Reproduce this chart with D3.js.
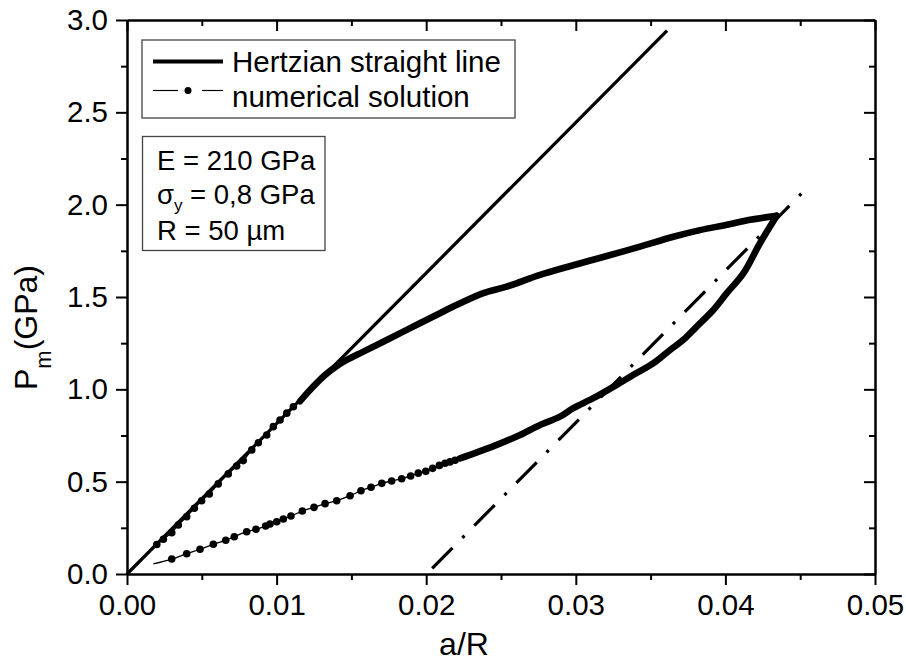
<!DOCTYPE html>
<html>
<head>
<meta charset="utf-8">
<script src="https://cdn.jsdelivr.net/npm/d3@7"></script>
<style>
    html, body { margin: 0; padding: 0; background: #fff; }
    svg { display: block; }
    svg text { font-family: "Liberation Sans", Arial, sans-serif; fill: #000; }
</style>
</head>
<body>
<svg id="chart"></svg>
<script>
// Hertzian straight line (a/R, Pm in GPa)
const hertzA = [0, 0.0361];
const hertzP = [0, 2.942];

// unloading straight line (dash-dot)
const slopeA = [0.0204, 0.0452];
const slopeP = [0.030, 2.070];

// numerical solution, loading branch
const loadA = [0, 0.00199, 0.00243, 0.00299, 0.00343, 0.00399, 0.00450, 0.00499, 0.00550, 0.00610,
    0.00677, 0.00733, 0.00777, 0.00834, 0.00878, 0.00934, 0.00978, 0.01023, 0.01068, 0.01112,
    0.01156, 0.01245, 0.01320, 0.01400, 0.01469, 0.01580, 0.01713, 0.01870, 0.02048, 0.02181,
    0.02382, 0.02538, 0.02761, 0.02983, 0.03207, 0.03429, 0.03652, 0.03830,
    0.04009, 0.04165, 0.04343];
const loadP = [0, 0.160, 0.188, 0.224, 0.265, 0.310, 0.356, 0.397, 0.433, 0.488,
    0.542, 0.585, 0.614, 0.672, 0.711, 0.753, 0.798, 0.834, 0.871, 0.906,
    0.935, 1.015, 1.075, 1.125, 1.159, 1.204, 1.258, 1.322, 1.394, 1.448,
    1.521, 1.556, 1.620, 1.672, 1.722, 1.773, 1.826, 1.862,
    1.891, 1.918, 1.940];

// numerical solution, unloading branch (from the peak down)
const unloadA = [0.04343, 0.04231, 0.04120, 0.04009, 0.03919, 0.03808, 0.03719, 0.03630, 0.03518, 0.03384,
    0.03273, 0.03117, 0.02983, 0.02894, 0.02761, 0.02627, 0.02471, 0.02293, 0.02226, 0.02193,
    0.02159, 0.02126, 0.02088, 0.02043, 0.01997, 0.01947, 0.01896, 0.01836, 0.01769, 0.01703,
    0.01631, 0.01564, 0.01491, 0.01402, 0.01324, 0.01250, 0.01172, 0.01096, 0.01045, 0.01001,
    0.00956, 0.00927, 0.00862, 0.00800, 0.00717, 0.00660, 0.00577, 0.00488, 0.00399, 0.00299,
    0.00176];
const unloadP = [1.940, 1.791, 1.628, 1.521, 1.430, 1.340, 1.268, 1.213, 1.141, 1.078,
    1.024, 0.952, 0.898, 0.852, 0.807, 0.753, 0.699, 0.645, 0.626, 0.616,
    0.607, 0.600, 0.588, 0.572, 0.556, 0.546, 0.531, 0.516, 0.504, 0.491,
    0.470, 0.451, 0.424, 0.397, 0.381, 0.361, 0.341, 0.314, 0.298, 0.283,
    0.271, 0.260, 0.242, 0.229, 0.202, 0.183, 0.161, 0.134, 0.110, 0.081,
    0.055];

// where the symbols get so dense that they merge into a thick line
const loadDenseFrom = 0.0115;
const unloadDenseFrom = 0.0222;

const xTicks = [0, 0.01, 0.02, 0.03, 0.04, 0.05];
const yTicks = [0, 0.5, 1.0, 1.5, 2.0, 2.5, 3.0];

const legendLabels = ["Hertzian straight line", "numerical solution"];

document.addEventListener('DOMContentLoaded', function () {
    const width = 906, height = 663;
    const svg = d3.select("#chart").attr("width", width).attr("height", height);

    const x = d3.scaleLinear().domain([0, 0.05]).range([127, 875]);
    const y = d3.scaleLinear().domain([0, 3]).range([574, 20]);

    const xMinor = d3.range(0.005, 0.05, 0.01);
    const yMinor = d3.range(0.25, 3, 0.5);

    // axes: bottom/left ticks point out, top/right point in
    function styleAxis(g) {
        g.attr("font-family", null);
        g.selectAll("path, line").attr("stroke", "#000").attr("stroke-width", 2);
        g.selectAll("text").attr("fill", "#000").style("font-size", "29.5px");
    }

    svg.append("g").attr("transform", "translate(0,574)")
        .call(d3.axisBottom(x).tickValues(xTicks).tickFormat(d3.format(".2f")).tickSizeInner(11).tickSizeOuter(0).tickPadding(9))
        .call(styleAxis);
    svg.append("g").attr("transform", "translate(0,574)")
        .call(d3.axisBottom(x).tickValues(xMinor).tickFormat("").tickSizeInner(6).tickSizeOuter(0))
        .call(styleAxis);

    svg.append("g").attr("transform", "translate(127,0)")
        .call(d3.axisLeft(y).tickValues(yTicks).tickFormat(d3.format(".1f")).tickSizeInner(11).tickSizeOuter(0).tickPadding(8))
        .call(styleAxis);
    svg.append("g").attr("transform", "translate(127,0)")
        .call(d3.axisLeft(y).tickValues(yMinor).tickFormat("").tickSizeInner(6).tickSizeOuter(0))
        .call(styleAxis);

    svg.append("g").attr("transform", "translate(0,20)")
        .call(d3.axisTop(x).tickValues(xTicks).tickFormat("").tickSizeInner(-11).tickSizeOuter(0))
        .call(styleAxis);
    svg.append("g").attr("transform", "translate(0,20)")
        .call(d3.axisTop(x).tickValues(xMinor).tickFormat("").tickSizeInner(-6).tickSizeOuter(0))
        .call(styleAxis);

    svg.append("g").attr("transform", "translate(875,0)")
        .call(d3.axisRight(y).tickValues(yTicks).tickFormat("").tickSizeInner(-11).tickSizeOuter(0))
        .call(styleAxis);
    svg.append("g").attr("transform", "translate(875,0)")
        .call(d3.axisRight(y).tickValues(yMinor).tickFormat("").tickSizeInner(-6).tickSizeOuter(0))
        .call(styleAxis);

    // axis titles
    svg.append("text")
        .attr("x", 464).attr("y", 655)
        .attr("text-anchor", "middle")
        .style("font-size", "32px")
        .text("a/R");

    const yTitle = svg.append("text")
        .attr("transform", "translate(37,390) rotate(-90)")
        .style("font-size", "32px");
    yTitle.append("tspan").text("P");
    yTitle.append("tspan").attr("dy", 14).style("font-size", "22px").text("m");
    yTitle.append("tspan").attr("dy", -14).text("(GPa)");

    const line = d3.line().x(d => x(d[0])).y(d => y(d[1]));
    const smooth = d3.line().x(d => x(d[0])).y(d => y(d[1])).curve(d3.curveCatmullRom.alpha(0.5));
    const zip = (a, b) => a.map((v, i) => [v, b[i]]);

    // Hertzian straight line
    svg.append("path")
        .attr("d", line(zip(hertzA, hertzP)))
        .style("fill", "none").style("stroke", "#000").style("stroke-width", 3.3);

    // dash-dot unloading line
    svg.append("path")
        .attr("d", line(zip(slopeA, slopeP)))
        .style("fill", "none").style("stroke", "#000").style("stroke-width", 3.2)
        .style("stroke-dasharray", "29,14,3,14");

    // numerical solution: thin connecting line, each branch on its own
    const loadPts = zip(loadA, loadP);
    const unloadPts = zip(unloadA, unloadP);

    [loadPts, unloadPts].forEach(pts => {
        svg.append("path")
            .attr("d", smooth(pts))
            .style("fill", "none").style("stroke", "#000").style("stroke-width", 1.3);
    });

    // dense parts, where the symbols run together into a thick band
    const loadDense = loadPts.filter(d => d[0] >= loadDenseFrom);
    const unloadDense = unloadPts.filter(d => d[0] >= unloadDenseFrom);
    [loadDense, unloadDense].forEach(pts => {
        svg.append("path")
            .attr("d", smooth(pts))
            .style("fill", "none").style("stroke", "#000").style("stroke-width", 6.6)
            .style("stroke-linejoin", "round").style("stroke-linecap", "round");
    });

    // symbols (first and last point carry none)
    const sparse = loadPts.slice(1).filter(d => d[0] < loadDenseFrom)
        .concat(unloadPts.slice(0, -1).filter(d => d[0] < unloadDenseFrom));
    svg.selectAll(".dot")
        .data(sparse)
        .enter()
        .append("circle")
        .attr("class", "dot")
        .attr("cx", d => x(d[0]))
        .attr("cy", d => y(d[1]))
        .attr("r", 3.8)
        .style("fill", "#000");

    // legend box
    svg.append("rect")
        .attr("x", 142).attr("y", 40).attr("width", 373).attr("height", 78)
        .style("fill", "#fff").style("stroke", "#444").style("stroke-width", 1.3);
    svg.append("line")
        .attr("x1", 153).attr("x2", 223).attr("y1", 61.5).attr("y2", 61.5)
        .style("stroke", "#000").style("stroke-width", 4);
    svg.append("line")
        .attr("x1", 153).attr("x2", 178).attr("y1", 90.5).attr("y2", 90.5)
        .style("stroke", "#000").style("stroke-width", 1.2);
    svg.append("line")
        .attr("x1", 202).attr("x2", 223).attr("y1", 90.5).attr("y2", 90.5)
        .style("stroke", "#000").style("stroke-width", 1.2);
    svg.append("circle")
        .attr("cx", 188).attr("cy", 90.5).attr("r", 3.5).style("fill", "#000");
    svg.selectAll(".leg")
        .data(legendLabels)
        .enter()
        .append("text")
        .attr("class", "leg")
        .attr("x", 232)
        .attr("y", (d, i) => 72 + i * 35)
        .style("font-size", "29.5px")
        .text(d => d);

    // parameters box
    svg.append("rect")
        .attr("x", 142.5).attr("y", 136.5).attr("width", 182.5).attr("height", 114)
        .style("fill", "#fff").style("stroke", "#444").style("stroke-width", 1.3);
    const info = svg.append("g").style("font-size", "27.5px");
    info.append("text").attr("x", 157).attr("y", 170).text("E = 210 GPa");
    const sig = info.append("text").attr("x", 157).attr("y", 204);
    sig.append("tspan").text("σ");
    sig.append("tspan").attr("dy", 7).style("font-size", "17px").text("y");
    sig.append("tspan").attr("dy", -7).text(" = 0,8 GPa");
    info.append("text").attr("x", 157).attr("y", 240).text("R = 50 µm");
});
</script>
</body>
</html>
